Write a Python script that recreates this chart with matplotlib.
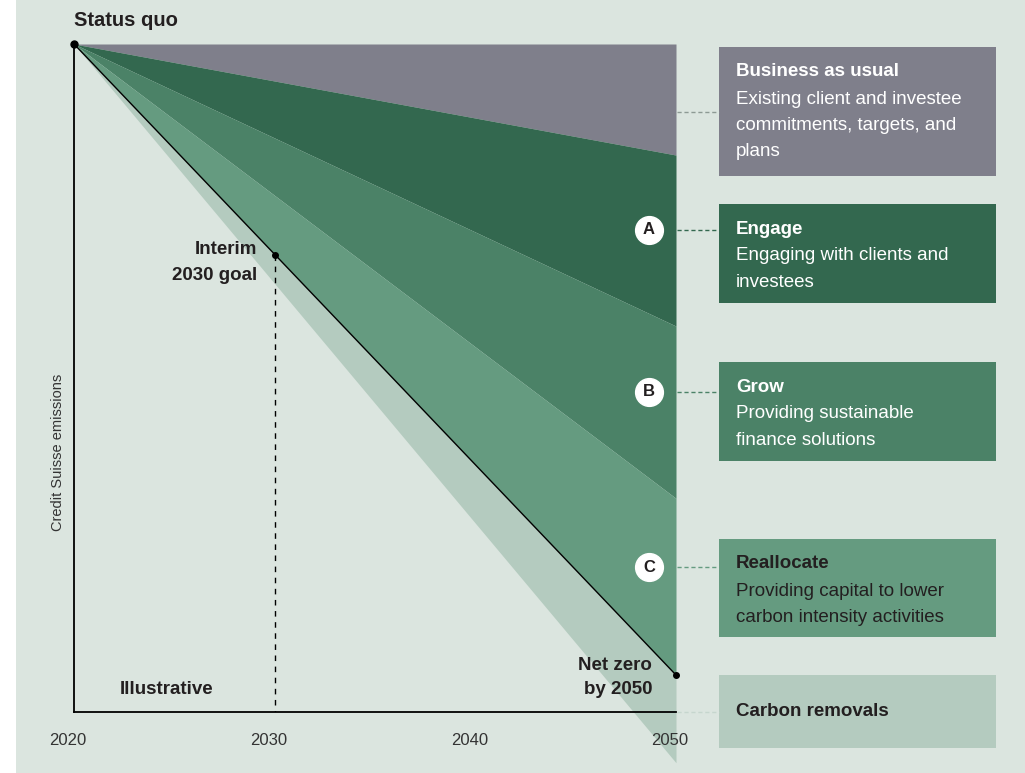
import matplotlib.pyplot as plt
import matplotlib.transforms as mtransforms
from matplotlib.lines import Line2D
from matplotlib.patches import Rectangle

plt.rcParams['font.family'] = ['Liberation Sans', 'DejaVu Sans']

W, H = 1025, 773

# pathway values (status quo = 100, net zero = 0)
years = [2020, 2050]
bau = [100, 82.4]
engage = [100, 55.3]
grow = [100, 28.0]
net_zero = [100, 0.0]
removals = [100, -13.9]
interim_year = 2030
interim_value = 66.6
tick_years = [2020, 2030, 2040, 2050]

BG = '#dbe5df'
C_BAU = '#7f7f8b'
C_ENGAGE = '#33684f'
C_GROW = '#4b8267'
C_REALLOC = '#659b80'
C_REMOVE = '#b4cbbf'
DARK = '#231f20'

boxes = [
    # (top, bottom, colour, text colour, title, body lines, connector y, letter, dash colour)
    (47, 176, C_BAU, 'white', 'Business as usual',
     ['Existing client and investee', 'commitments, targets, and', 'plans'], 112, None, '#8d9a94'),
    (204, 303, C_ENGAGE, 'white', 'Engage',
     ['Engaging with clients and', 'investees'], 230, 'A', C_ENGAGE),
    (362, 461, C_GROW, 'white', 'Grow',
     ['Providing sustainable', 'finance solutions'], 392, 'B', C_GROW),
    (539, 637, C_REALLOC, DARK, 'Reallocate',
     ['Providing capital to lower', 'carbon intensity activities'], 567, 'C', C_REALLOC),
    (675, 748, C_REMOVE, DARK, 'Carbon removals', [], 712, None, '#c6d6ce'),
]


def fx(x):
    return x / W


def fy(y):
    return 1 - y / H


fig = plt.figure(figsize=(W / 100, H / 100), dpi=100)
fig.patch.set_facecolor('white')
fig.add_artist(Rectangle((fx(16), 0), 1 - fx(16), 1, transform=fig.transFigure,
                         facecolor=BG, edgecolor='none', zorder=0))

ax = fig.add_axes([fx(74), fy(712), fx(676) - fx(74), fy(44) - fy(712)])
ax.patch.set_visible(False)
ax.set_xlim(2020, 2050)
ax.set_ylim(-5.86, 100)

ax.fill_between(years, [100, 100], bau, color=C_BAU, lw=0, zorder=2)
ax.fill_between(years, bau, engage, color=C_ENGAGE, lw=0, zorder=2)
ax.fill_between(years, engage, grow, color=C_GROW, lw=0, zorder=2)
ax.fill_between(years, grow, net_zero, color=C_REALLOC, lw=0, zorder=2)
ax.fill_between(years, net_zero, removals, color=C_REMOVE, lw=0, zorder=1, clip_on=False)

ax.plot(years, net_zero, color='black', lw=1.0, zorder=4)
ax.plot([interim_year, interim_year], [interim_value, ax.get_ylim()[0]], color='black',
        lw=1.0, ls=(0, (4, 4)), zorder=4)
ax.plot([years[0]], [100], 'o', color='black', ms=5, zorder=5, clip_on=False)
ax.plot([interim_year], [interim_value], 'o', color='black', ms=4, zorder=5, clip_on=False)
ax.plot([years[1]], [net_zero[1]], 'o', color='black', ms=4, zorder=5, clip_on=False)

for s in ['top', 'right']:
    ax.spines[s].set_visible(False)
for s in ['left', 'bottom']:
    ax.spines[s].set_color('black')
    ax.spines[s].set_linewidth(1.3)
    ax.spines[s].set_zorder(6)
ax.set_yticks([])
ax.set_xticks(tick_years)
ax.set_xticklabels([str(y) for y in tick_years], fontsize=12, color='#333333')
ax.tick_params(axis='x', length=0, pad=15)
shift = mtransforms.ScaledTranslation(-6 / 100, 0, fig.dpi_scale_trans)
for lab in ax.get_xticklabels():
    lab.set_transform(lab.get_transform() + shift)

fig.text(fx(58), fy(452), 'Credit Suisse emissions', rotation=90, ha='center', va='center',
         fontsize=10.5, color='#333333')

fig.text(fx(74), fy(20), 'Status quo', ha='left', va='center', fontsize=14.5,
         fontweight='bold', color=DARK)
fig.text(fx(257), fy(250), 'Interim', ha='right', va='center', fontsize=13.5,
         fontweight='bold', color=DARK)
fig.text(fx(257), fy(276), '2030 goal', ha='right', va='center', fontsize=13.5,
         fontweight='bold', color=DARK)
fig.text(fx(120), fy(690), 'Illustrative', ha='left', va='center', fontsize=13.5,
         fontweight='bold', color=DARK)
fig.text(fx(652), fy(665), 'Net zero', ha='right', va='center', fontsize=13.5,
         fontweight='bold', color=DARK)
fig.text(fx(652), fy(690), 'by 2050', ha='right', va='center', fontsize=13.5,
         fontweight='bold', color=DARK)

# side legend boxes
for top, bottom, col, tcol, title, body, cy, letter, dcol in boxes:
    fig.add_artist(Rectangle((fx(719), fy(bottom)), fx(996) - fx(719), fy(top) - fy(bottom),
                             transform=fig.transFigure, facecolor=col, edgecolor='none', zorder=1))
    fig.add_artist(Line2D([fx(677), fx(719)], [fy(cy), fy(cy)], transform=fig.transFigure,
                          color=dcol, lw=1.0, ls=(0, (3, 2)), zorder=1))
    if body:
        fig.text(fx(736), fy(top + 25), title, ha='left', va='center', fontsize=13.5,
                 fontweight='bold', color=tcol)
        for i, line in enumerate(body):
            fig.text(fx(736), fy(top + 52 + 26.5 * i), line, ha='left', va='center',
                     fontsize=13.5, color=tcol)
    else:
        fig.text(fx(736), fy(cy), title, ha='left', va='center', fontsize=13.5,
                 fontweight='bold', color=tcol)
    if letter:
        fig.add_artist(Line2D([fx(649)], [fy(cy)], transform=fig.transFigure, marker='o',
                              ms=20, mfc='white', mec='white', ls='none', zorder=7))
        fig.text(fx(649), fy(cy), letter, ha='center', va='center', fontsize=12,
                 fontweight='bold', color=DARK, zorder=8)

fig.savefig('out.png', dpi=100, facecolor=fig.get_facecolor())
